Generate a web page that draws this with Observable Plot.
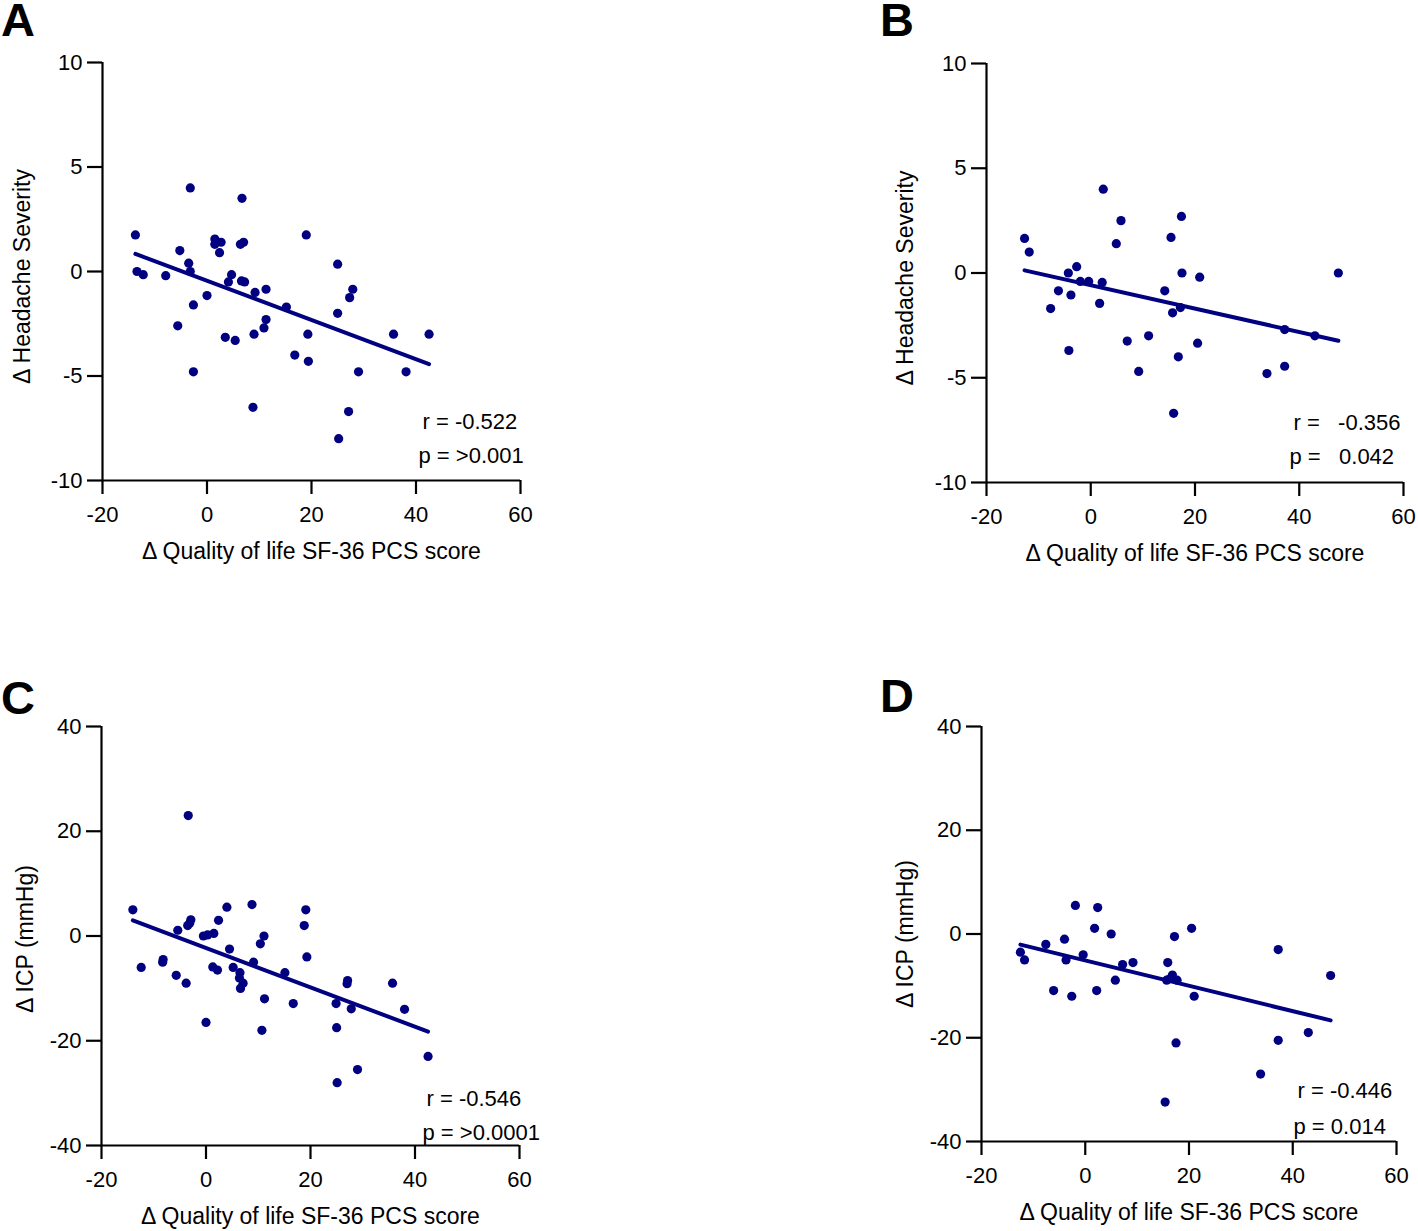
<!DOCTYPE html>
<html>
<head>
<meta charset="utf-8">
<script src="https://cdn.jsdelivr.net/npm/d3@7"></script>
<script src="https://cdn.jsdelivr.net/npm/@observablehq/plot@0.6"></script>
<style>
  html, body { margin: 0; padding: 0; background: #fff; }
  #root { position: relative; width: 1418px; height: 1231px; background: #fff; font-family: "Liberation Sans", Arial, sans-serif; }
  .panel { position: absolute; }
  .letter { position: absolute; font-family: "Liberation Sans", Arial, sans-serif; font-weight: bold; font-size: 47px; line-height: 40px; color: #000; }
</style>
</head>
<body>
<div id="root"></div>
<script>
// ---- Data ----
const xTicks = [-20, 0, 20, 40, 60];
const yTicksHeadache = [-10, -5, 0, 5, 10];
const yTicksICP = [-40, -20, 0, 20, 40];

const xLabel = "Δ Quality of life SF-36 PCS score";
const yLabelHeadache = "Δ Headache Severity";
const yLabelICP = "Δ ICP (mmHg)";

// Panel A: Δ QoL vs Δ Headache severity
const qolA = [-13.7, -3.2, 6.7, 19.0, 1.5, 1.5, 2.7, 2.4, 6.4, 7.0, -5.2, -3.5, -3.2, -13.4, -12.2, -7.9,
  4.7, 4.1, 6.6, 7.2, 9.2, 11.3, 0.0, -2.6, 15.2, 25.0, 27.9, 27.3, 25.0, -5.6, 3.5, 5.4, 9.0, 11.3, 10.9,
  19.3, 16.8, 19.4, -2.6, 29.0, 35.7, 42.5, 38.1, 8.8, 27.1, 25.2];
const headacheA = [1.75, 4.0, 3.5, 1.75, 1.55, 1.3, 1.4, 0.9, 1.3, 1.4, 1.0, 0.4, 0.0, 0.0, -0.15, -0.2,
  -0.15, -0.5, -0.45, -0.5, -1.0, -0.85, -1.15, -1.6, -1.7, 0.35, -0.85, -1.25, -2.0, -2.6, -3.15, -3.3, -3.0, -2.3, -2.7,
  -3.0, -4.0, -4.3, -4.8, -4.8, -3.0, -3.0, -4.8, -6.5, -6.7, -8.0];

// Panel B
const qolB = [-12.7, -11.8, 2.4, 5.8, 4.9, 17.4, 15.4, -4.3, -2.7, -2.0, -0.4, 2.2, -6.2, -3.8, -7.7, 1.7,
  -4.2, 17.5, 20.9, 47.5, 14.2, 17.2, 15.7, 7.0, 11.1, 20.5, 16.8, 9.2, 15.9, 37.2, 43.0, 37.2, 33.8];
const headacheB = [1.65, 1.0, 4.0, 2.5, 1.4, 2.7, 1.7, 0.0, 0.3, -0.4, -0.4, -0.45, -0.85, -1.05, -1.7, -1.45,
  -3.7, 0.0, -0.2, 0.0, -0.85, -1.65, -1.9, -3.25, -3.0, -3.35, -4.0, -4.7, -6.7, -2.7, -3.0, -4.45, -4.8];

// Panel C: Δ QoL vs Δ ICP
const qolC = [-3.4, -14.0, 4.0, 8.8, 19.1, 18.8, -2.9, -3.1, -3.5, 2.4, -5.4, -0.5, 0.3, 1.5, 11.1, 10.4,
  4.5, 19.3, -12.4, -8.2, -8.3, -5.7, -3.8, 1.3, 2.2, 5.2, 9.1, 6.5, 6.4, 7.1, 6.6, 15.1, 11.2, 16.7, 0.0,
  10.7, 27.1, 27.0, 35.7, 24.9, 27.8, 38.0, 25.0, 42.5, 29.0, 25.1];
const icpC = [23.0, 5.0, 5.5, 6.0, 5.0, 2.0, 3.1, 2.5, 2.0, 3.0, 1.1, 0.0, 0.2, 0.5, 0.0, -1.5,
  -2.5, -4.0, -6.0, -4.5, -5.0, -7.5, -9.0, -5.9, -6.5, -6.0, -5.0, -7.0, -8.0, -9.0, -10.0, -7.0, -12.0, -12.9, -16.5,
  -18.0, -8.5, -9.1, -9.0, -12.9, -13.9, -14.0, -17.5, -23.0, -25.5, -28.0];

// Panel D
const qolD = [-12.5, -11.7, -7.6, -4.0, -1.9, 2.4, 1.8, 5.0, -3.7, -0.4, -6.1, -2.6, 2.2, 5.8, 7.2, 9.2,
  17.2, 20.5, 15.9, 16.8, 16.4, 15.7, 17.7, 21.0, 17.5, 15.4, 37.2, 47.3, 37.2, 43.0, 33.8];
const icpD = [-3.5, -5.0, -2.0, -1.0, 5.5, 5.1, 1.1, 0.0, -5.0, -4.0, -10.9, -12.0, -10.9, -8.9, -5.9, -5.5,
  -0.5, 1.1, -5.5, -7.9, -8.6, -8.9, -8.9, -12.0, -21.0, -32.4, -3.0, -8.0, -20.5, -19.0, -27.0];

const statsA = ["r = -0.522", "p = >0.001"];
const statsB = ["r =\u00a0\u00a0 -0.356", "p =\u00a0\u00a0 0.042"];
const statsC = ["r = -0.546", "p = >0.0001"];
const statsD = ["r = -0.446", "p = 0.014"];

// ---- Drawing ----
const NAVY = "#000080";
const FONT = "'Liberation Sans', Arial, sans-serif";

function panel(cfg) {
  const data = cfg.xs.map((x, i) => ({x, y: cfg.ys[i]}));
  const [xMin, xMax] = [xTicks[0], xTicks[xTicks.length - 1]];
  const [yMin, yMax] = [cfg.yTicks[0], cfg.yTicks[cfg.yTicks.length - 1]];
  const chart = Plot.plot({
    width: cfg.width,
    height: cfg.height,
    marginLeft: cfg.mL, marginRight: cfg.mR, marginTop: cfg.mT, marginBottom: cfg.mB,
    style: {fontFamily: FONT, background: "transparent", color: "#000", overflow: "visible"},
    x: {domain: [xMin, xMax], axis: null},
    y: {domain: [yMin, yMax], axis: null},
    marks: [
      Plot.axisX({ticks: xTicks, tickSize: 14, tickPadding: 12, strokeWidth: 2.2, fontSize: 22,
        tickFormat: d => String(d), label: null}),
      Plot.axisY({ticks: cfg.yTicks, tickSize: 15, tickPadding: 5, strokeWidth: 2.2, fontSize: 22,
        tickFormat: d => String(d), label: null}),
      Plot.ruleY([yMin], {x1: xMin, x2: xMax, stroke: "#000", strokeWidth: 2.2}),
      Plot.ruleX([xMin], {y1: yMin, y2: yMax, stroke: "#000", strokeWidth: 2.2}),
      Plot.linearRegressionY(data, {x: "x", y: "y", ci: 0, stroke: NAVY, strokeWidth: 4}),
      Plot.dot(data, {x: "x", y: "y", r: 4.6, fill: NAVY, stroke: "none"}),
      Plot.text([cfg.stats[0]], {text: d => d, frameAnchor: "bottom-left", textAnchor: "start", lineAnchor: "middle",
        dx: cfg.rPos[0], dy: cfg.rPos[1], fontSize: 22, fill: "#000"}),
      Plot.text([cfg.stats[1]], {text: d => d, frameAnchor: "bottom-left", textAnchor: "start", lineAnchor: "middle",
        dx: cfg.pPos[0], dy: cfg.pPos[1], fontSize: 22, fill: "#000"}),
      Plot.text([xLabel], {text: d => d, frameAnchor: "bottom", textAnchor: "middle", lineAnchor: "middle",
        dy: cfg.xLabDy, fontSize: 23, fill: "#000"}),
      Plot.text([cfg.yLabel], {text: d => d, frameAnchor: "left", rotate: -90, textAnchor: "middle", lineAnchor: "middle",
        dx: cfg.yLabDx, dy: cfg.yLabDy, fontSize: 23, fill: "#000"})
    ]
  });
  const wrap = document.createElement("div");
  wrap.className = "panel";
  wrap.style.left = cfg.left + "px";
  wrap.style.top = cfg.top + "px";
  wrap.appendChild(chart);
  document.getElementById("root").appendChild(wrap);

  const letter = document.createElement("div");
  letter.className = "letter";
  letter.textContent = cfg.letter;
  letter.style.left = cfg.letterPos[0] + "px";
  letter.style.top = cfg.letterPos[1] + "px";
  document.getElementById("root").appendChild(letter);
}

panel({letter: "A", letterPos: [1, 0], left: 0, top: 0, width: 560, height: 580,
  mL: 102, mR: 40, mT: 62, mB: 100, xs: qolA, ys: headacheA, yTicks: yTicksHeadache,
  yLabel: yLabelHeadache, yLabDx: -80, yLabDy: 5, xLabDy: 71, stats: statsA, rPos: [320, -59], pPos: [316, -25]});

panel({letter: "B", letterPos: [880, 0], left: 880, top: 0, width: 538, height: 580,
  mL: 106, mR: 15, mT: 63, mB: 98, xs: qolB, ys: headacheB, yTicks: yTicksHeadache,
  yLabel: yLabelHeadache, yLabDx: -81, yLabDy: 5, xLabDy: 71, stats: statsB, rPos: [307, -60], pPos: [303, -26]});

panel({letter: "C", letterPos: [1, 678], left: 0, top: 660, width: 560, height: 571,
  mL: 101, mR: 41, mT: 66, mB: 86, xs: qolC, ys: icpC, yTicks: yTicksICP,
  yLabel: yLabelICP, yLabDx: -76, yLabDy: 3, xLabDy: 71, stats: statsC, rPos: [325, -47], pPos: [321, -13]});

panel({letter: "D", letterPos: [880, 676], left: 880, top: 660, width: 538, height: 571,
  mL: 101, mR: 22, mT: 66, mB: 90, xs: qolD, ys: icpD, yTicks: yTicksICP,
  yLabel: yLabelICP, yLabDx: -76, yLabDy: 0, xLabDy: 71, stats: statsD, rPos: [316, -51], pPos: [312, -15]});
</script>
</body>
</html>
